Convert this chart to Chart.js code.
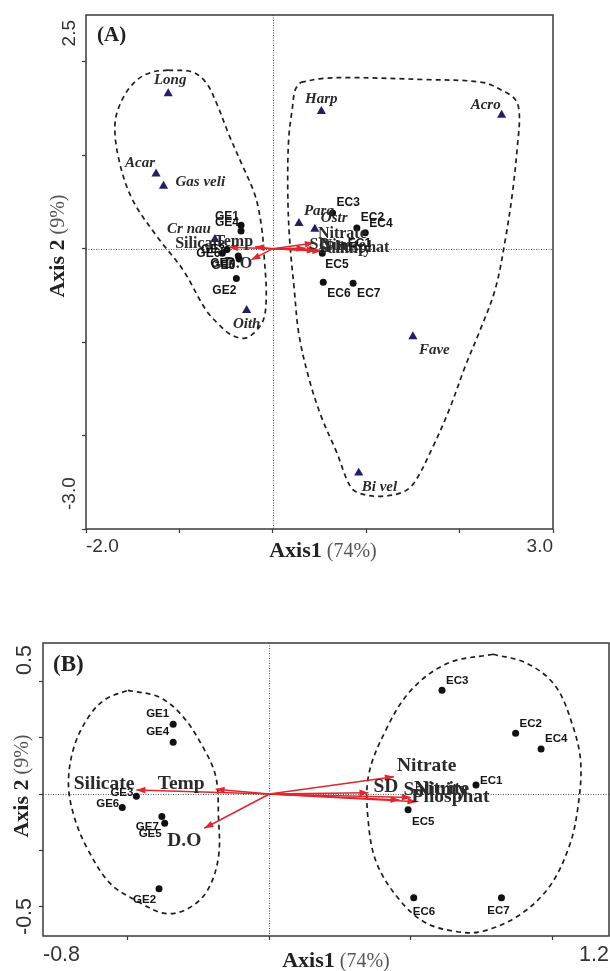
<!DOCTYPE html>
<html>
<head>
<meta charset="utf-8">
<script src="https://cdn.jsdelivr.net/npm/chart.js@4/dist/chart.umd.min.js"></script>
<style>
  html, body { margin: 0; padding: 0; background: #fff; }
  body { width: 610px; height: 971px; position: relative; overflow: hidden; }
  .panel { position: absolute; left: 0; width: 610px; }
  #wrapA { top: 0; height: 580px; }
  #wrapB { top: 630px; height: 341px; }
</style>
</head>
<body>
<div class="panel" id="wrapA"><canvas id="chartA"></canvas></div>
<div class="panel" id="wrapB"><canvas id="chartB"></canvas></div>
<script>
// ---------- Data (ordination scores) ----------

// species, panel A only
const speciesNames = ['Long', 'Acar', 'Gas veli', 'Cr nau', 'Oith', 'Harp', 'Acro', 'Para', 'Ostr', 'Fave', 'Bi vel'];
const speciesAxis1 = [-1.12, -1.25, -1.17, -0.62, -0.28, 0.52, 2.45, 0.28, 0.45, 1.50, 0.92];
const speciesAxis2 = [1.66, 0.80, 0.67, 0.10, -0.66, 1.47, 1.43, 0.27, 0.21, -0.94, -2.40];

// sampling stations
const sampleNames  = ['GE1', 'GE4', 'GE3', 'GE6', 'GE7', 'GE5', 'GE2', 'EC1', 'EC2', 'EC3', 'EC4', 'EC5', 'EC6', 'EC7'];
const sampleAxis1A = [-0.34, -0.34, -0.49, -0.54, -0.37, -0.36, -0.39, 0.76, 0.90, 0.64, 0.99, 0.53, 0.54, 0.86];
const sampleAxis2A = [0.25, 0.19, -0.01, -0.05, -0.08, -0.11, -0.32, 0.03, 0.22, 0.38, 0.17, -0.05, -0.36, -0.37];
const sampleAxis1B = [-0.34, -0.34, -0.47, -0.52, -0.38, -0.37, -0.39, 0.73, 0.87, 0.61, 0.96, 0.49, 0.51, 0.82];
const sampleAxis2B = [0.31, 0.23, -0.01, -0.06, -0.10, -0.13, -0.42, 0.04, 0.27, 0.46, 0.20, -0.07, -0.46, -0.46];

// environmental variables (arrow tips)
const envNames  = ['Silicate', 'Temp', 'D.O', 'Nitrate', 'SD', 'Salinity', 'Nitrite', 'Phosphat'];
const envAxis1A = [-0.47, -0.19, -0.23, 0.44, 0.35, 0.46, 0.48, 0.52];
const envAxis2A = [0.015, 0.02, -0.12, 0.06, 0.005, -0.02, -0.01, -0.027];
const envAxis1B = [-0.47, -0.19, -0.23, 0.44, 0.35, 0.46, 0.50, 0.52];
const envAxis2B = [0.018, 0.021, -0.152, 0.077, 0.006, -0.027, -0.015, -0.034];

// dashed group outlines
const hullLeftAxis1A  = [-1.12, -0.86, -0.71, -0.60, -0.47, -0.33, -0.19, -0.12, -0.09, -0.07, -0.10, -0.21, -0.31, -0.45, -0.58, -0.72, -0.96, -1.24, -1.50, -1.64, -1.69, -1.61, -1.46, -1.29];
const hullLeftAxis2A  = [1.91, 1.89, 1.77, 1.55, 1.22, 0.90, 0.57, 0.23, -0.12, -0.49, -0.76, -0.91, -0.96, -0.92, -0.81, -0.65, -0.23, 0.13, 0.52, 0.92, 1.33, 1.60, 1.80, 1.89];
const hullRightAxis1A = [0.30, 0.52, 0.84, 1.60, 2.24, 2.46, 2.60, 2.64, 2.62, 2.57, 2.49, 2.38, 2.22, 2.06, 1.89, 1.70, 1.51, 1.38, 1.16, 0.97, 0.84, 0.68, 0.52, 0.39, 0.28, 0.23, 0.18, 0.16, 0.17, 0.21, 0.24];
const hullRightAxis2A = [1.78, 1.82, 1.83, 1.81, 1.78, 1.69, 1.59, 1.43, 1.11, 0.63, 0.10, -0.44, -0.87, -1.26, -1.72, -2.15, -2.51, -2.61, -2.65, -2.63, -2.56, -2.17, -1.80, -1.40, -0.92, -0.44, 0.10, 0.63, 1.17, 1.51, 1.70];
const ellLeftAxis1B   = [-0.50, -0.39, -0.31, -0.24, -0.19, -0.18, -0.18, -0.22, -0.29, -0.37, -0.46, -0.56, -0.64, -0.69, -0.71, -0.69, -0.64, -0.58];
const ellLeftAxis2B   = [0.46, 0.43, 0.35, 0.22, 0.08, -0.10, -0.28, -0.43, -0.51, -0.53, -0.48, -0.40, -0.25, -0.10, 0.05, 0.21, 0.34, 0.42];
const ellRightAxis1B  = [0.79, 0.91, 1.01, 1.07, 1.10, 1.09, 1.06, 0.99, 0.88, 0.75, 0.66, 0.55, 0.46, 0.38, 0.35, 0.35, 0.41, 0.50, 0.63];
const ellRightAxis2B  = [0.62, 0.58, 0.48, 0.31, 0.14, -0.06, -0.23, -0.41, -0.54, -0.61, -0.61, -0.57, -0.47, -0.31, -0.13, 0.08, 0.28, 0.46, 0.58];

// axes
const axis1RangeA = [-2, 3],        axis2RangeA = [-3, 2.5];
const axis1RangeB = [-0.8, 1.2],    axis2RangeB = [-0.63, 0.67];
const axis1TicksA = [-2, -1, 0, 1, 2, 3];
const axis2TicksA = [-3, -2, -1, 0, 1, 2];
const axis1TicksB = [-0.5, 0, 0.5, 1.0];
const axis2TicksB = [-0.5, -0.25, 0, 0.25, 0.5];
const axis1LabelsA = [[-2, '-2.0'], [3, '3.0']];
const axis2LabelsA = [[2.5, '2.5'], [-3, '-3.0']];
const axis1LabelsB = [[-0.8, '-0.8'], [1.2, '1.2']];
const axis2LabelsB = [[0.67, '0.5'], [-0.63, '-0.5']];

// ---------- Styling / label placement ----------
const SERIF = '"Liberation Serif", "Times New Roman", serif';
const SANS  = '"Liberation Sans", Arial, sans-serif';
const RED = '#e2262c';
const NAVY = '#1f1f6e';

// label offsets in px from the mark: [dx, dy, align]
const speciesOffA = [[2, -13, 'center'], [-16, -11, 'center'], [12, -4, 'left'], [-4, -10, 'right'], [0, 14, 'center'],
                     [0, -12, 'center'], [-1, -10, 'right'], [5, -12, 'left'], [6, -11, 'left'], [6, 14, 'left'], [3, 14, 'left']];
const sampleOffA  = [[-2, -9, 'right'], [-2, -8, 'right'], [-2, 0, 'right'], [-2, 0, 'right'], [-4, 8, 'right'], [-4, 7, 'right'],
                     [0, 12, 'right'], [4, -2, 'left'], [4, -10, 'left'], [4, -10, 'left'], [4, -9, 'left'], [3, 11, 'left'],
                     [4, 11, 'left'], [4, 10, 'left']];
const envOffA     = [[-4, -3, 'right'], [-2, -5, 'right'], [1, 4, 'right'], [4, -9, 'left'], [4, -3, 'left'], [3, -2, 'left'],
                     [3, -4, 'left'], [4, -3, 'left']];
const sampleOffB  = [[-4, -10, 'right'], [-4, -10, 'right'], [-3, -3, 'right'], [-3, -4, 'right'], [-3, 10, 'right'],
                     [-3, 11, 'right'], [-3, 11, 'right'], [4, -4, 'left'], [4, -9, 'left'], [4, -10, 'left'], [4, -10, 'left'],
                     [4, 12, 'left'], [-1, 14, 'left'], [-3, 13, 'center']];
const envOffB     = [[-2, -6, 'right'], [-11, -5, 'right'], [-3, 13, 'right'], [3, -11, 'left'], [5, -6, 'left'],
                     [4, -10, 'left'], [3, -8, 'left'], [-5, -5, 'left']];

const decorCfg = {
  chartA: {
    tag: '(A)', tagX: 97, tagY: 36, tagSize: 21, tickSize: 19,
    xLabels: axis1LabelsA, yLabels: axis2LabelsA, xLabelY: 547, yLabelX: 70, yPad: [5, 19],
    xTitle: [323, 550], yTitle: [57, 246]
  },
  chartB: {
    tag: '(B)', tagX: 53, tagY: 35, tagSize: 23, tickSize: 21.5,
    xLabels: axis1LabelsB, yLabels: axis2LabelsB, xLabelY: 325, yLabelX: 25, yPad: [2, 1],
    xTitle: [336, 330], yTitle: [21, 156]
  }
};

// ---------- Helpers ----------
const pairs = (a1, a2) => a1.map((v, i) => ({ x: v, y: a2[i] }));
const loop  = (a1, a2) => pairs(a1, a2).concat([{ x: a1[0], y: a2[0] }]);

function hullDataset(a1, a2) {
  return { data: loop(a1, a2), showLine: true, tension: 0.35, borderColor: '#1e1e1e', borderWidth: 1.7,
           borderDash: [5, 4], pointRadius: 0, order: 3 };
}

function arrowDatasets(a1, a2, offs, size) {
  return envNames.map((n, i) => ({
    role: 'env', labelNames: [n], labelOffsets: [offs[i]],
    labelFont: `bold ${size}px ${SERIF}`, labelColor: '#2b2b2b', fromEnd: true,
    data: [{ x: 0, y: 0 }, { x: a1[i], y: a2[i] }],
    showLine: true, borderColor: RED, borderWidth: 1.5, pointRadius: 0, order: 2
  }));
}

function drawMixed(ctx, parts, cx, cy, rotate) {
  let w = 0;
  parts.forEach(p => { ctx.font = p[1]; w += ctx.measureText(p[0]).width; });
  ctx.save();
  ctx.translate(cx, cy);
  if (rotate) ctx.rotate(-Math.PI / 2);
  ctx.textAlign = 'left';
  ctx.textBaseline = 'alphabetic';
  let xx = -w / 2;
  parts.forEach(p => {
    ctx.font = p[1]; ctx.fillStyle = p[2];
    ctx.fillText(p[0], xx, 7);
    xx += ctx.measureText(p[0]).width;
  });
  ctx.restore();
}

// ---------- Plugin: zero lines, arrowheads, labels, frame ----------
const ordiDecor = {
  id: 'ordiDecor',
  beforeDatasetsDraw(chart) {
    const { ctx, chartArea: a, scales: { x, y } } = chart;
    const x0 = Math.round(x.getPixelForValue(0)) + 0.5;
    const y0 = Math.round(y.getPixelForValue(0)) + 0.5;
    ctx.save();
    ctx.strokeStyle = '#5a5a5a';
    ctx.lineWidth = 1;
    ctx.setLineDash([1, 1.5]);
    ctx.beginPath();
    ctx.moveTo(x0, a.top); ctx.lineTo(x0, a.bottom);
    ctx.moveTo(a.left, y0); ctx.lineTo(a.right, y0);
    ctx.stroke();
    ctx.restore();
  },
  afterDatasetsDraw(chart) {
    const ctx = chart.ctx;
    ctx.save();
    // arrow heads
    chart.data.datasets.forEach((ds, i) => {
      if (ds.role !== 'env') return;
      const pts = chart.getDatasetMeta(i).data;
      const p0 = pts[0], p1 = pts[pts.length - 1];
      const ang = Math.atan2(p1.y - p0.y, p1.x - p0.x);
      const len = 9, half = 3.4;
      ctx.fillStyle = RED;
      ctx.beginPath();
      ctx.moveTo(p1.x, p1.y);
      ctx.lineTo(p1.x - len * Math.cos(ang) + half * Math.sin(ang), p1.y - len * Math.sin(ang) - half * Math.cos(ang));
      ctx.lineTo(p1.x - len * Math.cos(ang) - half * Math.sin(ang), p1.y - len * Math.sin(ang) + half * Math.cos(ang));
      ctx.closePath();
      ctx.fill();
    });
    // text labels
    ctx.textBaseline = 'middle';
    chart.data.datasets.forEach((ds, i) => {
      if (!ds.labelNames) return;
      const pts = chart.getDatasetMeta(i).data;
      ctx.font = ds.labelFont;
      ctx.fillStyle = ds.labelColor;
      ds.labelNames.forEach((name, j) => {
        const p = ds.fromEnd ? pts[pts.length - 1] : pts[j];
        const [dx, dy, align] = ds.labelOffsets[j];
        ctx.textAlign = align;
        ctx.fillText(name, p.x + dx, p.y + dy);
      });
    });
    ctx.restore();
  },
  afterDraw(chart) {
    const c = decorCfg[chart.canvas.id];
    const { ctx, chartArea: a, scales: { x, y } } = chart;
    ctx.save();
    ctx.strokeStyle = '#3a3a3a';
    ctx.lineWidth = 1.5;
    ctx.strokeRect(a.left, a.top, a.right - a.left, a.bottom - a.top);

    ctx.fillStyle = '#333';
    ctx.font = `${c.tickSize}px ${SANS}`;
    ctx.textBaseline = 'middle';
    c.xLabels.forEach(([v, t], i) => {
      ctx.textAlign = i === 0 ? 'left' : 'right';
      ctx.fillText(t, x.getPixelForValue(v), c.xLabelY);
    });
    c.yLabels.forEach(([v, t], i) => {
      const py = y.getPixelForValue(v) + (i === 0 ? c.yPad[0] : -c.yPad[1]);
      ctx.save();
      ctx.translate(c.yLabelX, py);
      ctx.rotate(-Math.PI / 2);
      ctx.textAlign = i === 0 ? 'right' : 'left';
      ctx.fillText(t, 0, 0);
      ctx.restore();
    });

    drawMixed(ctx, [['Axis1', `bold 22px ${SERIF}`, '#222'], [' (74%)', `20px ${SERIF}`, '#555']], c.xTitle[0], c.xTitle[1], false);
    drawMixed(ctx, [['Axis 2', `bold 22px ${SERIF}`, '#222'], [' (9%)', `20px ${SERIF}`, '#555']], c.yTitle[0], c.yTitle[1], true);

    ctx.font = `bold ${c.tagSize}px ${SERIF}`;
    ctx.fillStyle = '#222';
    ctx.textAlign = 'left';
    ctx.textBaseline = 'middle';
    ctx.fillText(c.tag, c.tagX, c.tagY);
    ctx.restore();
  }
};

function axisOpts(range, ticks) {
  return {
    type: 'linear', min: range[0], max: range[1],
    afterBuildTicks: axis => { axis.ticks = ticks.map(v => ({ value: v })); },
    ticks: { display: false },
    grid: { display: true, drawOnChartArea: false, drawTicks: true, tickLength: 4, tickColor: '#3a3a3a', tickWidth: 1.2 },
    border: { display: false }
  };
}

function makeChart(id, datasets, xr, yr, xt, yt, padding) {
  return new Chart(document.getElementById(id), {
    type: 'scatter',
    data: { datasets },
    options: {
      responsive: true, maintainAspectRatio: false, animation: false,
      layout: { padding, autoPadding: false },
      scales: { x: axisOpts(xr, xt), y: axisOpts(yr, yt) },
      plugins: { legend: { display: false }, tooltip: { enabled: false } }
    },
    plugins: [ordiDecor]
  });
}

// ---------- Panel A ----------
const datasetsA = [
  hullDataset(hullLeftAxis1A, hullLeftAxis2A),
  hullDataset(hullRightAxis1A, hullRightAxis2A),
  ...arrowDatasets(envAxis1A, envAxis2A, envOffA, 16),
  {
    data: pairs(speciesAxis1, speciesAxis2), pointStyle: 'triangle', pointRadius: 5.3,
    backgroundColor: NAVY, borderColor: NAVY, borderWidth: 0, order: 0,
    labelNames: speciesNames, labelOffsets: speciesOffA, labelFont: `italic bold 15px ${SERIF}`, labelColor: '#2a2a2a'
  },
  {
    data: pairs(sampleAxis1A, sampleAxis2A), pointStyle: 'circle', pointRadius: 3.5,
    backgroundColor: '#111', borderColor: '#111', borderWidth: 0, order: 1,
    labelNames: sampleNames, labelOffsets: sampleOffA, labelFont: `bold 12px ${SANS}`, labelColor: '#151515'
  }
];
makeChart('chartA', datasetsA, axis1RangeA, axis2RangeA, axis1TicksA, axis2TicksA,
          { left: 82, top: 15, right: 57, bottom: 47 });

// ---------- Panel B ----------
const datasetsB = [
  hullDataset(ellLeftAxis1B, ellLeftAxis2B),
  hullDataset(ellRightAxis1B, ellRightAxis2B),
  ...arrowDatasets(envAxis1B, envAxis2B, envOffB, 19.5),
  {
    data: pairs(sampleAxis1B, sampleAxis2B), pointStyle: 'circle', pointRadius: 3.5,
    backgroundColor: '#111', borderColor: '#111', borderWidth: 0, order: 1,
    labelNames: sampleNames, labelOffsets: sampleOffB, labelFont: `bold 11.5px ${SANS}`, labelColor: '#151515'
  }
];
makeChart('chartB', datasetsB, axis1RangeB, axis2RangeB, axis1TicksB, axis2TicksB,
          { left: 39, top: 13, right: 1, bottom: 31 });
</script>
</body>
</html>
